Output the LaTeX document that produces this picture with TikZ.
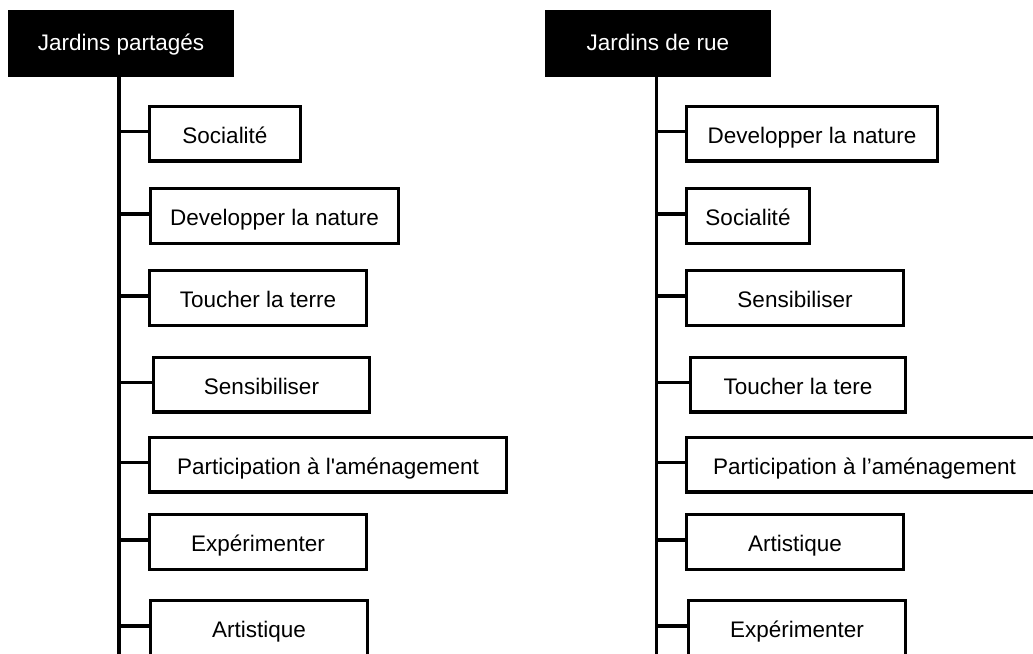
\documentclass[tikz,border=0pt]{standalone}
\usepackage{fontspec}
\setmainfont{Liberation Sans}
\begin{document}
\begin{tikzpicture}[x=1pt,y=-1pt,
  head/.style={fill=black,text=white,inner sep=0pt,minimum width=226pt,minimum height=67pt,text height=17pt,text depth=4pt,font=\fontsize{22.5}{27}\selectfont},
  item/.style={draw=black,line width=3.3pt,fill=white,inner sep=0pt,minimum height=54.7pt,text height=19pt,text depth=0pt,font=\fontsize{22.5}{27}\selectfont},
  wire/.style={line width=3.3pt,draw=black}]
\useasboundingbox (0,0) rectangle (1033,653);
\clip (0,0) rectangle (1033,653);
% left column
\node[head] (hl) at (121,43.5) {Jardins partagés};
\coordinate (lt) at (119,77);
\coordinate (lb) at (119,660);
\draw[wire] (lt) -- (lb);
\node[item,minimum width=150.7pt] (l1) at (225,133.5) {Socialité};
\node[item,minimum width=247.7pt] (l2) at (274.5,216) {Developper la nature};
\node[item,minimum width=216.7pt] (l3) at (258,298) {Toucher la terre};
\node[item,minimum width=215.7pt] (l4) at (261.5,384.5) {Sensibiliser};
\node[item,minimum width=356.7pt] (l5) at (328,464.5) {Participation à l\textquotesingle aménagement};
\node[item,minimum width=216.7pt] (l6) at (258,542) {Expérimenter};
\node[item,minimum width=216.7pt] (l7) at (259,628) {Artistique};
\foreach \n in {l1,l2,l3,l4,l5,l6,l7}{
  \coordinate (tmp) at ([yshift=2pt]\n.west);
  \draw[wire] (tmp) -- (lt |- tmp);
}
% right column
\node[head] (hr) at (658,43.5) {Jardins de rue};
\coordinate (rt) at (656.5,77);
\coordinate (rb) at (656.5,660);
\draw[wire] (rt) -- (rb);
\node[item,minimum width=250.7pt] (r1) at (812,133.5) {Developper la nature};
\node[item,minimum width=122.7pt] (r2) at (748,216) {Socialité};
\node[item,minimum width=216.7pt] (r3) at (795,298) {Sensibiliser};
\node[item,minimum width=214.7pt] (r4) at (798,384.5) {Toucher la tere};
\node[item,minimum width=356pt] (r5) at (864.5,464.5) {Participation à l’aménagement};
\node[item,minimum width=216.7pt] (r6) at (795,542) {Artistique};
\node[item,minimum width=216.7pt] (r7) at (797,628) {Expérimenter};
\foreach \n in {r1,r2,r3,r4,r5,r6,r7}{
  \coordinate (tmp) at ([yshift=2pt]\n.west);
  \draw[wire] (tmp) -- (rt |- tmp);
}
\end{tikzpicture}
\end{document}
